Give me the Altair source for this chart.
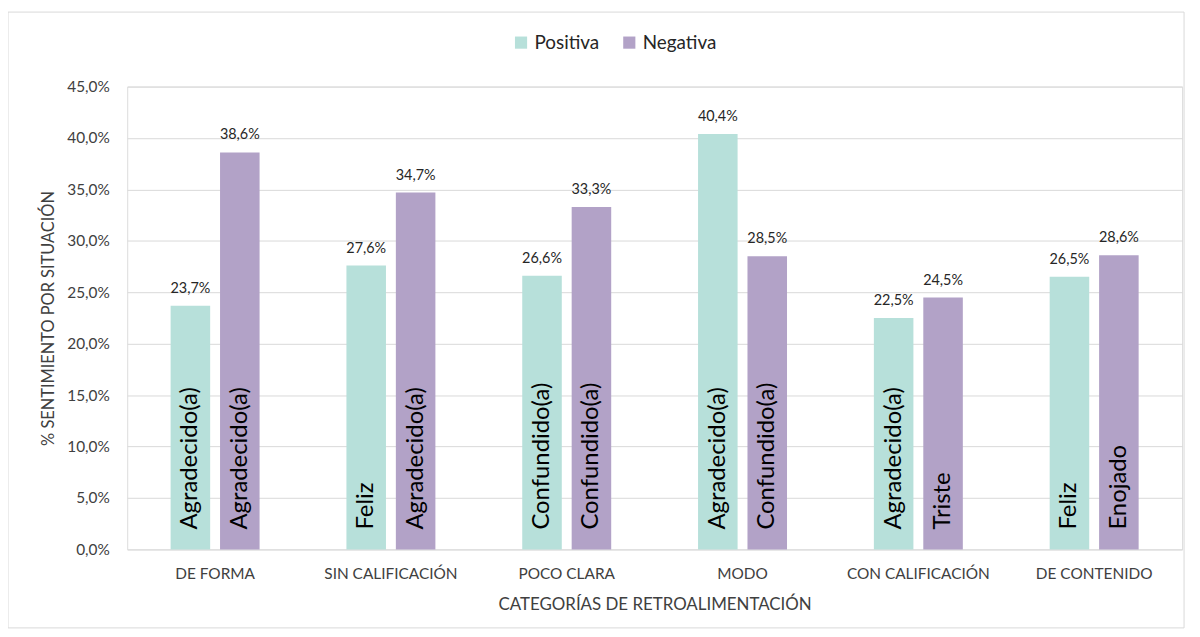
import altair as alt
import pandas as pd

categories = ["DE FORMA", "SIN CALIFICACIÓN", "POCO CLARA", "MODO", "CON CALIFICACIÓN", "DE CONTENIDO"]
positiva = [23.7, 27.6, 26.6, 40.4, 22.5, 26.5]
negativa = [38.6, 34.7, 33.3, 28.5, 24.5, 28.6]
emocion_pos = ["Agradecido(a)", "Feliz", "Confundido(a)", "Agradecido(a)", "Agradecido(a)", "Feliz"]
emocion_neg = ["Agradecido(a)", "Agradecido(a)", "Confundido(a)", "Confundido(a)", "Triste", "Enojado"]
series = ["Positiva", "Negativa"]
colors = ["#B7E0DA", "#B2A2C7"]

rows = []
for i, c in enumerate(categories):
    for s, vals, em in [("Positiva", positiva, emocion_pos), ("Negativa", negativa, emocion_neg)]:
        v = vals[i]
        rows.append({
            "categoria": c,
            "serie": s,
            "valor": v / 100.0,
            "etiqueta": f"{v:.1f}%".replace(".", ","),
            "emocion": em[i],
        })
df = pd.DataFrame(rows)

FONT = "Lato"
W, H = 1062, 466

x_enc = alt.X(
    "categoria:N",
    sort=categories,
    scale=alt.Scale(paddingInner=0.494, paddingOuter=0.247),
    axis=alt.Axis(
        title="CATEGORÍAS DE RETROALIMENTACIÓN",
        labelAngle=0,
        ticks=False,
        domain=False,
        labelPadding=17,
        labelFontSize=15.5,
        labelColor="#404040",
        titleFontSize=17,
        titleFontWeight="normal",
        titleColor="#404040",
        titlePadding=15,
        labelFont=FONT,
        titleFont=FONT,
    ),
)
xoff = alt.XOffset("serie:N", sort=series, scale=alt.Scale(paddingInner=0.2, paddingOuter=0))

base = alt.Chart(df)

bars = base.mark_bar().encode(
    x=x_enc,
    xOffset=xoff,
    y=alt.Y(
        "valor:Q",
        scale=alt.Scale(domain=[0, 0.45]),
        axis=alt.Axis(
            title="% SENTIMIENTO POR SITUACIÓN",
            values=[i * 0.05 for i in range(10)],
            labelExpr="replace(format(datum.value, '.1%'), '.', ',')",
            ticks=False,
            domain=False,
            grid=True,
            gridColor="#D9D9D9",
            gridWidth=1,
            labelPadding=18,
            labelFontSize=15.5,
            labelColor="#404040",
            titleFontSize=16.5,
            titleFontWeight="normal",
            titleColor="#404040",
            titlePadding=10,
            labelFont=FONT,
            titleFont=FONT,
        ),
    ),
    color=alt.Color(
        "serie:N",
        sort=series,
        scale=alt.Scale(domain=series, range=colors),
        legend=alt.Legend(
            title=None,
            orient="none",
            direction="horizontal",
            legendX=387,
            legendY=-54,
            symbolType="square",
            symbolSize=150,
            symbolStrokeWidth=0,
            labelFontSize=19,
            labelColor="#262626",
            labelFont=FONT,
            columnPadding=20,
        ),
    ),
)

values_text = base.mark_text(baseline="bottom", dy=-10, fontSize=14.5, color="#262626", font=FONT).encode(
    x=alt.X("categoria:N", sort=categories),
    xOffset=xoff,
    y="valor:Q",
    text="etiqueta:N",
)

inner_text = base.mark_text(
    angle=270, align="left", baseline="middle", dx=20, fontSize=24, color="#000000", font=FONT
).encode(
    x=alt.X("categoria:N", sort=categories),
    xOffset=xoff,
    y=alt.datum(0),
    text="emocion:N",
)

border = alt.Chart(pd.DataFrame({"a": [0]})).mark_rect(
    fill=None, stroke="#D9D9D9", strokeWidth=1
).encode(
    x=alt.value(-120), x2=alt.value(1064), y=alt.value(-75), y2=alt.value(545)
)

chart = (
    alt.layer(border, bars, values_text, inner_text)
    .properties(
        width=W,
        height=H,
        autosize=alt.AutoSizeParams(type="none"),
        padding={"left": 120, "top": 77, "right": 10, "bottom": 78},
    )
    .configure_view(stroke=None)
    .configure(background="white")
)

chart.save("out.html", embed_options={"renderer": "svg", "actions": False})
